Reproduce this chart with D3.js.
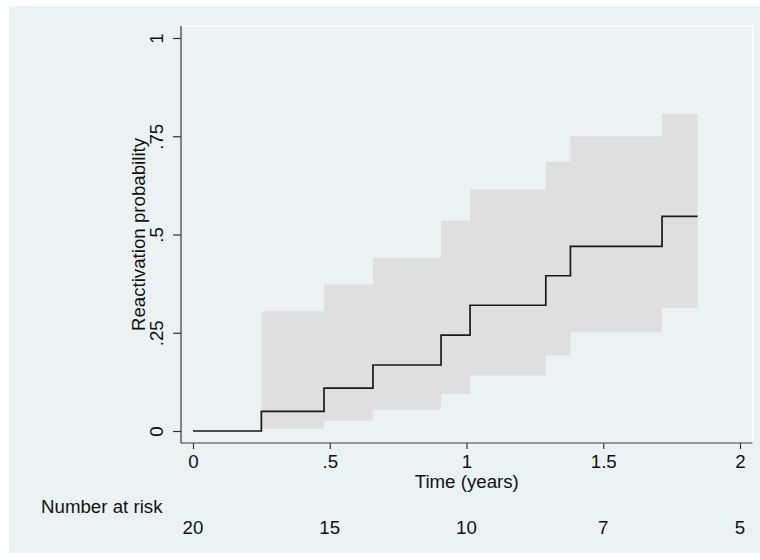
<!DOCTYPE html>
<meta charset="utf-8">
<style>
body { margin: 0; background: #fff; }
text { font-family: "Liberation Sans", Arial, sans-serif; fill: #111; }
.panel { fill: #eaf2f3; }
.plotbox { fill: none; stroke: #fff; stroke-width: 1.2px; }
.band { fill: #dfdfdf; stroke: none; }
.km { fill: none; stroke: #1a1a1a; stroke-width: 1.7px; }
.axisline { stroke: #333; stroke-width: 1.2px; }
.tick line { stroke: #333; stroke-width: 1.2px; }
</style>
<body>
<div id="chart"></div>
<script src="https://d3js.org/d3.v7.min.js"></script>
<script>

// Kaplan-Meier failure curve
var stepTimes = [0, 0.25, 0.479, 0.658, 0.907, 1.013, 1.29, 1.38, 1.715];
var endTime = 1.845;
var failProb = [0, 0.050, 0.109, 0.168, 0.244, 0.320, 0.395, 0.470, 0.546];
var ciLower  = [null, 0.006, 0.026, 0.054, 0.094, 0.141, 0.193, 0.251, 0.313];
var ciUpper  = [null, 0.305, 0.373, 0.441, 0.535, 0.616, 0.686, 0.750, 0.807];

var xTicks = [0, 0.5, 1, 1.5, 2],
    xTickLabels = ["0", ".5", "1", "1.5", "2"];
var yTicks = [0, 0.25, 0.5, 0.75, 1],
    yTickLabels = ["0", ".25", ".5", ".75", "1"];

var riskTimes = [0, 0.5, 1, 1.5, 2];
var nAtRisk = [20, 15, 10, 7, 5];

var width = 760, height = 560, fs = 18.7;
var plot = {left: 181, top: 26, right: 752.5, bottom: 443};

var x = d3.scaleLinear().domain([0, 2]).range([193, 740]);
var y = d3.scaleLinear().domain([0, 1]).range([431, 38]);

var svg = d3.select("#chart").append("svg")
    .attr("width", width)
    .attr("height", height);

svg.append("rect").attr("class", "panel")
    .attr("x", 9).attr("y", 6).attr("width", width - 9).attr("height", 547);

svg.append("rect").attr("class", "plotbox")
    .attr("x", plot.left).attr("y", plot.top)
    .attr("width", plot.right - plot.left).attr("height", plot.bottom - plot.top);

// build step data, repeating last value to the end time
var km = stepTimes.map(function(t, i) {
  return {t: t, f: failProb[i], lo: ciLower[i], hi: ciUpper[i]};
});
km.push({t: endTime, f: failProb[failProb.length - 1],
         lo: ciLower[ciLower.length - 1], hi: ciUpper[ciUpper.length - 1]});

var area = d3.area()
    .defined(function(d) { return d.lo != null; })
    .x(function(d) { return x(d.t); })
    .y0(function(d) { return y(d.lo); })
    .y1(function(d) { return y(d.hi); })
    .curve(d3.curveStepAfter);

var line = d3.line()
    .x(function(d) { return x(d.t); })
    .y(function(d) { return y(d.f); })
    .curve(d3.curveStepAfter);

svg.append("path").datum(km.filter(function(d) { return d.lo != null; }))
    .attr("class", "band").attr("d", area);

svg.append("path").datum(km).attr("class", "km").attr("d", line);

// x axis
var xAxis = svg.append("g")
    .attr("transform", "translate(0," + plot.bottom + ")")
    .call(d3.axisBottom(x).tickValues(xTicks)
      .tickFormat(function(d, i) { return xTickLabels[i]; })
      .tickSize(6).tickPadding(6));
xAxis.select(".domain").remove();
xAxis.selectAll("text").style("font-size", fs + "px")
    .style("font-family", null).attr("fill", null);

svg.append("line").attr("class", "axisline")
    .attr("x1", plot.left).attr("x2", plot.right)
    .attr("y1", plot.bottom).attr("y2", plot.bottom);

// y axis
var yAxis = svg.append("g")
    .attr("transform", "translate(" + plot.left + ",0)")
    .call(d3.axisLeft(y).tickValues(yTicks)
      .tickFormat(function(d, i) { return yTickLabels[i]; })
      .tickSize(8));
yAxis.select(".domain").remove();
yAxis.selectAll("text")
    .attr("x", null).attr("dy", null).attr("fill", null)
    .attr("text-anchor", "middle")
    .attr("transform", "translate(-18,0) rotate(-90)")
    .style("font-size", fs + "px");

svg.append("line").attr("class", "axisline")
    .attr("x1", plot.left).attr("x2", plot.left)
    .attr("y1", plot.top).attr("y2", plot.bottom);

// titles
svg.append("text")
    .attr("transform", "translate(145," + (plot.top + plot.bottom) / 2 + ") rotate(-90)")
    .attr("text-anchor", "middle")
    .style("font-size", fs + "px")
    .text("Reactivation probability");

svg.append("text")
    .attr("x", (plot.left + plot.right) / 2).attr("y", 488)
    .attr("text-anchor", "middle")
    .style("font-size", fs + "px")
    .text("Time (years)");

// number at risk table
svg.append("text")
    .attr("x", 41).attr("y", 513)
    .style("font-size", fs + "px")
    .text("Number at risk");

svg.selectAll(".risk").data(nAtRisk).enter().append("text")
    .attr("class", "risk")
    .attr("x", function(d, i) { return x(riskTimes[i]); })
    .attr("y", 534)
    .attr("text-anchor", "middle")
    .style("font-size", fs + "px")
    .text(function(d) { return d; });

</script>
</body>
</html>
